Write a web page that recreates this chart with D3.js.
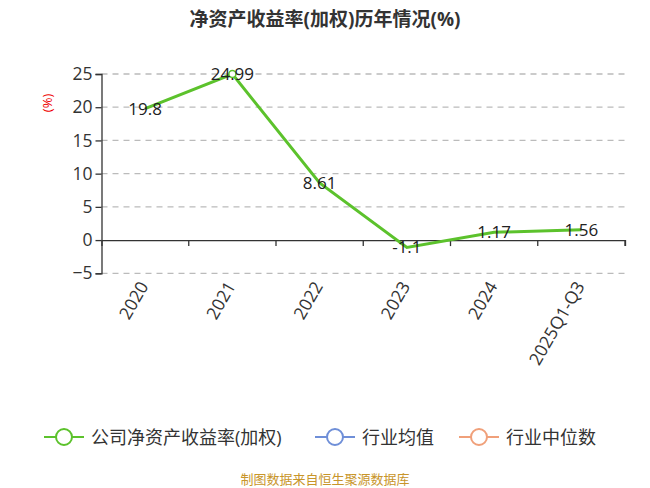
<!DOCTYPE html><html><head><meta charset="utf-8"><script src="https://cdn.jsdelivr.net/npm/d3@7"></script>
<style>body{margin:0;background:#fff}</style></head><body><svg width="650" height="488"></svg><script>
const categories=["2020","2021","2022","2023","2024","2025Q1-Q3"];
const values=[19.8,24.99,8.61,-1.1,1.17,1.56];
const labels=["19.8","24.99","8.61","-1.1","1.17","1.56"];
const yTicks=[-5,0,5,10,15,20,25];
const svg=d3.select("svg");const F="'Open Sans','Noto Sans CJK SC',sans-serif";
const x=d3.scaleBand().domain(categories).range([101.5,625]);
const y=d3.scaleLinear().domain([-5,25]).range([273.3,74]);
svg.append("text").attr("x",325).attr("y",26).attr("text-anchor","middle").attr("font-family",F).attr("font-size",19).attr("font-weight","bold").attr("fill","#333").text("净资产收益率(加权)历年情况(%)");
yTicks.forEach(t=>{ if(t!==0) svg.append("line").attr("x1",101.5).attr("x2",625).attr("y1",y(t)).attr("y2",y(t)).attr("stroke","#bbb").attr("stroke-dasharray","6,5").attr("stroke-width",1.3);});
const ya=svg.append("g").attr("transform","translate(101.5,0)").call(d3.axisLeft(y).tickValues(yTicks).tickSize(6).tickPadding(3));
ya.selectAll("text").attr("font-family",F).attr("font-size",17.5).attr("fill","#333");
ya.selectAll("line,path").attr("stroke","#333").attr("stroke-width",1.3);
const xa=svg.append("g").attr("transform",`translate(0,${y(0)})`).call(d3.axisBottom(x).tickSize(6).tickFormat(()=>""));
xa.selectAll("line,path").attr("stroke","#333").attr("stroke-width",1.3);
xa.selectAll(".tick line").attr("transform",`translate(${x.bandwidth()/2},0)`);
categories.forEach(c=>{const cx=x(c)+x.bandwidth()/2;svg.append("text").attr("transform",`translate(${cx+4},286) rotate(-60)`).attr("text-anchor","end").attr("font-family",F).attr("font-size",17.5).attr("fill","#333").text(c);});
svg.append("text").attr("transform","translate(52,103) rotate(-90)").attr("text-anchor","middle").attr("font-family",F).attr("font-size",13).attr("fill","#e00").text("(%)");
const px=c=>x(c)+x.bandwidth()/2;
svg.append("path").datum(values).attr("fill","none").attr("stroke","#5cc22c").attr("stroke-width",3).attr("d",d3.line().x((d,i)=>px(categories[i])).y(d=>y(d)));
svg.append("circle").attr("cx",px(categories[1])).attr("cy",y(values[1])).attr("r",3.5).attr("fill","#fff").attr("stroke","#5cc22c").attr("stroke-width",1.5);
values.forEach((v,i)=>svg.append("text").attr("x",px(categories[i])).attr("y",y(v)+6).attr("text-anchor","middle").attr("font-family",F).attr("font-size",17).attr("fill","#222").text(labels[i]));
const leg=[["公司净资产收益率(加权)","#5cc22c",44],["行业均值","#6f8fd8",315],["行业中位数","#f0a07a",459]];
leg.forEach(([t,c,lx])=>{svg.append("line").attr("x1",lx).attr("x2",lx+40).attr("y1",437).attr("y2",437).attr("stroke",c).attr("stroke-width",2);
svg.append("circle").attr("cx",lx+20).attr("cy",437).attr("r",8).attr("fill","#fff").attr("stroke",c).attr("stroke-width",2);
svg.append("text").attr("x",lx+47).attr("y",444).attr("font-family",F).attr("font-size",18).attr("fill","#333").text(t);});
svg.append("text").attr("x",325).attr("y",484).attr("text-anchor","middle").attr("font-family",F).attr("font-size",13).attr("fill","#c8952a").text("制图数据来自恒生聚源数据库");
</script></body></html>
